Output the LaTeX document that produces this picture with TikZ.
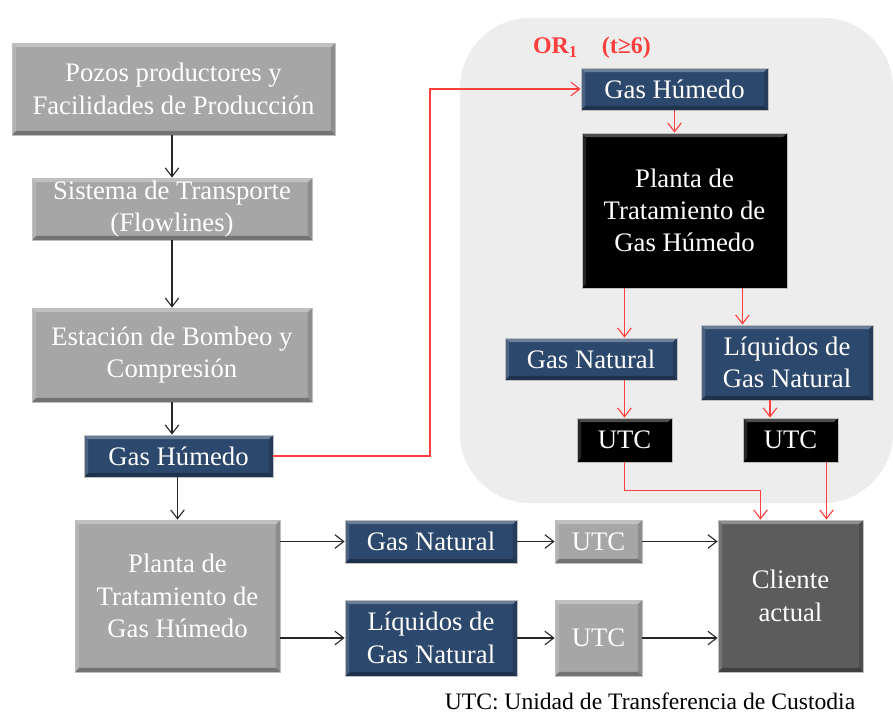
\documentclass[tikz,border=0pt]{standalone}
\usepackage{fontspec}
\setmainfont{Liberation Serif}
\usetikzlibrary{positioning, arrows.meta, calc}

\definecolor{boxgray}{RGB}{166,166,166}
\definecolor{boxblue}{RGB}{44,72,108}
\definecolor{boxdark}{RGB}{92,92,92}
\definecolor{regiongray}{RGB}{237,237,237}
\definecolor{flowred}{RGB}{255,62,62}
\newcommand\pxu{0.025cm}

\begin{document}
\begin{tikzpicture}[
    x=\pxu, y=-\pxu,
    sz/.style 2 args={minimum width=#1*\pxu, minimum height=#2*\pxu},
    bevel/.style={path picture={
        \fill[white, opacity=.3] (path picture bounding box.north west) -- (path picture bounding box.north east)
            -- ([shift={(-3pt,-3pt)}]path picture bounding box.north east) -- ([shift={(3pt,-3pt)}]path picture bounding box.north west) -- cycle;
        \fill[white, opacity=.15] (path picture bounding box.north west) -- (path picture bounding box.south west)
            -- ([shift={(3pt,3pt)}]path picture bounding box.south west) -- ([shift={(3pt,-3pt)}]path picture bounding box.north west) -- cycle;
        \fill[black, opacity=.3] (path picture bounding box.south west) -- (path picture bounding box.south east)
            -- ([shift={(-3pt,3pt)}]path picture bounding box.south east) -- ([shift={(3pt,3pt)}]path picture bounding box.south west) -- cycle;
        \fill[black, opacity=.15] (path picture bounding box.north east) -- (path picture bounding box.south east)
            -- ([shift={(-3pt,3pt)}]path picture bounding box.south east) -- ([shift={(-3pt,-3pt)}]path picture bounding box.north east) -- cycle;
    }},
    box/.style={draw=black!25, line width=.6pt, align=center, inner sep=0pt, text=white,
        font=\fontsize{19}{23}\selectfont, bevel},
    graybox/.style={box, fill=boxgray},
    bluebox/.style={box, fill=boxblue},
    blackbox/.style={box, fill=black},
    darkbox/.style={box, fill=boxdark},
    arrow/.style={-{Straight Barb[length=2.2mm, width=3.4mm]}, line width=.8pt, black!85},
    redarrow/.style={arrow, flowred}
]
    \useasboundingbox (0,0) rectangle (893,716);

    % Region of the new option
    \fill[regiongray, rounded corners=70*\pxu] (460,18) rectangle (893,503);
    \node[text=flowred, font=\fontsize{17}{20}\selectfont\bfseries] (orlabel) at (592,48) {OR$_{\mathbf{1}}$\quad(t≥6)};

    % Left column
    \node[graybox, sz={323}{92}] (pozos) at (173.5,89) {Pozos productores y\\Facilidades de Producción};
    \node[graybox, sz={280}{62}] (sistema) at (172,209) {Sistema de Transporte\\(Flowlines)};
    \node[graybox, sz={280}{94}] (estacion) at (172,355) {Estación de Bombeo y\\Compresión};
    \node[bluebox, sz={189}{42}] (gasL) at (178.5,456) {Gas Húmedo};
    \node[graybox, sz={205}{152}] (plantaL) at (177.5,596) {Planta de\\Tratamiento de\\Gas Húmedo};

    % Current products
    \node[bluebox, sz={172}{43}] (gnM) at (431,541.5) {Gas Natural};
    \node[bluebox, sz={172}{76}] (lgnM) at (431,638) {Líquidos de\\Gas Natural};
    \node[graybox, sz={87}{43}] (utcA) at (598.5,541.5) {UTC};
    \node[graybox, sz={87}{76}] (utcB) at (598.5,638) {UTC};
    \node[darkbox, sz={145}{152}] (cliente) at (790.5,596) {Cliente\\actual};

    % New option boxes
    \node[bluebox, sz={187}{42}] (gasR) at (674.5,89) {Gas Húmedo};
    \node[blackbox, sz={205}{155}] (plantaR) at (684.5,210.5) {Planta de\\Tratamiento de\\Gas Húmedo};
    \node[bluebox, sz={172}{42}] (gnR) at (591,359) {Gas Natural};
    \node[bluebox, sz={172}{75}] (lgnR) at (787,362.5) {Líquidos de\\Gas Natural};
    \node[blackbox, sz={95}{44}] (utcR1) at (624.5,440) {UTC};
    \node[blackbox, sz={95}{44}] (utcR2) at (790.5,440) {UTC};

    % Caption
    \node[font=\fontsize{16.8}{20}\selectfont, inner sep=1pt] (nota) at (650,701) {UTC: Unidad de Transferencia de Custodia};

    % Black flow
    \draw[arrow] (pozos.south -| sistema) -- (sistema.north);
    \draw[arrow] (sistema.south) -- (estacion.north);
    \draw[arrow] (estacion.south) -- (estacion.south |- gasL.north);
    \draw[arrow] (gasL.south -| plantaL) -- (plantaL.north);
    \draw[arrow] (plantaL.east |- gnM) -- (gnM.west);
    \draw[arrow] (plantaL.east |- lgnM) -- (lgnM.west);
    \draw[arrow] (gnM.east) -- (utcA.west);
    \draw[arrow] (lgnM.east) -- (utcB.west);
    \draw[arrow] (utcA.east) -- (utcA.east -| cliente.west);
    \draw[arrow] (utcB.east) -- (utcB.east -| cliente.west);

    % Red flow
    \coordinate (jog) at (430,456);
    \coordinate (tapL) at ($(plantaR.south east)+(-45,0)$);
    \coordinate (tapU) at ($(utcR2.north)+(-20.5,0)$);
    \coordinate (tapC) at ($(utcR2.south)+(36,0)$);
    \draw[redarrow] (gasL.east) -- (jog) |- (gasR.west);
    \draw[redarrow] (gasR.south) -- (gasR.south |- plantaR.north);
    \draw[redarrow] (plantaR.south -| utcR1) -- (gnR.north -| utcR1);
    \draw[redarrow] (tapL) -- (tapL |- lgnR.north);
    \draw[redarrow] (gnR.south -| utcR1) -- (utcR1.north);
    \draw[redarrow] (tapU |- lgnR.south) -- (tapU);
    \draw[redarrow] (utcR1.south) -- ++(0,28) -| ($(cliente.north)+(-30,0)$);
    \draw[redarrow] (tapC) -- (tapC |- cliente.north);
\end{tikzpicture}
\end{document}
